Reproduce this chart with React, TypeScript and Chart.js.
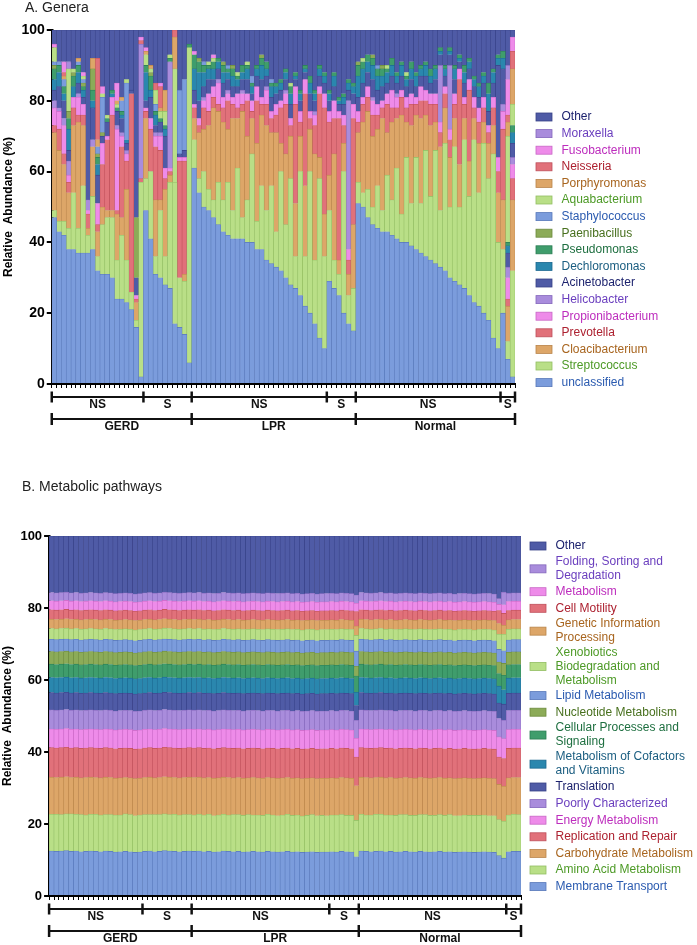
import { useEffect, useRef } from 'react';
import { Chart, registerables } from 'chart.js';

Chart.register(...registerables);
Chart.defaults.font.family = "'Liberation Sans', Arial, Helvetica, sans-serif";
document.body.style.margin = '0';

// sample groups (x axis brackets)
const subgroupNames = ['NS', 'S', 'NS', 'S', 'NS', 'S'];
const subgroupSizes = [19, 10, 28, 6, 30, 3];
const groupNames = ['GERD', 'LPR', 'Normal'];
const groupSizes = [29, 34, 33];

const sampleIds: string[] = [];
subgroupSizes.forEach((n, g) => {
  for (let i = 1; i <= n; i++) sampleIds.push(`${groupNames[Math.floor(g / 2)]} ${subgroupNames[g]}${i}`);
});

// ---- A. Genera (relative abundance, %), stacked bottom -> top ----
const genusNames = [
  'unclassified', 'Streptococcus', 'Cloacibacterium', 'Prevotella', 'Propionibacterium',
  'Helicobacter', 'Acinetobacter', 'Dechloromonas', 'Pseudomonas', 'Paenibacillus',
  'Staphylococcus', 'Aquabacterium', 'Porphyromonas', 'Neisseria', 'Fusobacterium',
  'Moraxella', 'Other',
];

const unclassified = [
  47, 43, 42, 38, 38, 37, 37, 37, 38, 32,
  31, 31, 30, 24, 24, 23, 21, 16, 2,
  49, 41, 31, 30, 28, 27, 17, 16, 14, 6,
  61, 54, 50, 49, 47, 45, 43, 42, 41, 41,
  41, 40, 40, 38, 38, 35, 34, 33, 32, 30,
  28, 27, 25, 22, 20, 17, 13, 10,
  29, 27, 25, 20, 17, 15,
  51, 50, 47, 45, 44, 43, 43, 42, 41, 40,
  40, 39, 38, 37, 36, 35, 34, 33, 32, 30,
  29, 28, 27, 25, 23, 22, 20, 18, 13, 10,
  20, 7, 2,
];
const streptococcus = [
  2, 3, 4, 6, 16, 7, 19, 5, 15, 4,
  14, 16, 17, 11, 18, 12, 5, 2, 55,
  9, 19, 5, 19, 8, 30, 40, 14, 15, 89,
  8, 4, 10, 6, 5, 12, 9, 15, 8, 20,
  6, 12, 25, 8, 18, 14, 22, 10, 28, 15,
  30, 9, 35, 14, 40, 18, 45, 26,
  20, 8, 6, 40, 8, 12,
  6, 4, 8, 5, 12, 6, 16, 10, 20, 8,
  24, 12, 26, 14, 30, 18, 32, 16, 36, 20,
  38, 22, 42, 28, 46, 32, 48, 40, 52, 30,
  18, 5, 30,
];
const cloacibacterium = [
  22, 20, 16, 10, 19, 30, 17, 2, 14, 7,
  5, 2, 2, 13, 5, 20, 0, 5, 0,
  17, 0, 16, 3, 19, 2, 0, 0, 2, 0,
  6, 13, 12, 18, 26, 20, 22, 15, 26, 14,
  30, 18, 10, 22, 20, 24, 15, 28, 8, 20,
  12, 15, 10, 20, 12, 30, 6, 12,
  10, 30, 4, 8, 6, 18,
  14, 20, 22, 20, 16, 26, 12, 22, 14, 28,
  10, 22, 12, 24, 10, 20, 8, 18, 10, 14,
  8, 12, 6, 10, 6, 14, 6, 10, 8, 14,
  14, 10, 20,
];
const prevotella = [
  2, 6, 3, 3, 5, 2, 3, 4, 0, 2,
  12, 20, 27, 1, 20, 8, 56, 1, 1,
  2, 12, 15, 14, 3, 1, 0, 33, 32, 0,
  3, 2, 6, 4, 3, 2, 4, 8, 4, 3,
  2, 10, 2, 12, 3, 6, 4, 5, 10, 14,
  3, 28, 4, 26, 3, 8, 18, 30,
  15, 10, 40, 5, 4, 30,
  3, 5, 4, 6, 4, 3, 8, 4, 3, 5,
  4, 6, 3, 5, 4, 6, 5, 4, 4, 5,
  4, 24, 4, 20, 3, 6, 4, 3, 5, 6,
  20, 2, 6,
];
const propionibacterium = [
  5, 5, 8, 2, 3, 5, 3, 1, 0, 6,
  6, 1, 5, 23, 3, 2, 0, 1, 0,
  1, 3, 3, 4, 3, 1, 0, 1, 1, 0,
  1, 2, 2, 5, 3, 6, 3, 2, 2, 4,
  3, 2, 3, 4, 2, 4, 2, 3, 2, 3,
  2, 5, 3, 4, 2, 3, 2, 4,
  3, 5, 2, 3, 3, 4,
  3, 2, 3, 4, 3, 2, 3, 5, 3, 2,
  3, 3, 2, 4, 3, 3, 3, 3, 2, 3,
  3, 3, 2, 3, 3, 4, 3, 2, 3, 4,
  5, 6, 4,
];
const helicobacter = [
  2, 1, 2, 4, 0, 1, 0, 3, 2, 0,
  0, 0, 0, 1, 1, 1, 0, 0, 38,
  0, 0, 1, 1, 0, 30, 0, 0, 0, 0,
  0, 0, 1, 0, 0, 1, 0, 1, 0, 0,
  1, 0, 0, 0, 0, 1, 0, 0, 0, 1,
  0, 0, 0, 0, 0, 1, 0, 0,
  0, 0, 0, 0, 42, 0,
  0, 0, 0, 1, 0, 0, 0, 0, 1, 0,
  0, 0, 0, 0, 0, 0, 0, 16, 0, 18,
  0, 0, 0, 0, 0, 0, 0, 0, 0, 0,
  2, 3, 2,
];
const acinetobacter = [
  3, 6, 5, 3, 0, 3, 2, 0, 9, 8,
  2, 4, 0, 4, 4, 2, 1, 5, 0,
  2, 6, 2, 3, 9, 0, 0, 1, 2, 0,
  4, 5, 3, 4, 2, 3, 4, 3, 3, 2,
  3, 4, 2, 3, 5, 3, 4, 3, 3, 3,
  4, 2, 3, 2, 5, 3, 3, 3,
  3, 4, 2, 3, 3, 3,
  4, 4, 4, 5, 4, 4, 3, 4, 3, 4,
  3, 4, 3, 3, 4, 3, 4, 3, 3, 3,
  4, 2, 4, 3, 3, 3, 4, 4, 4, 26,
  10, 4, 4,
];
const dechloromonas = [
  3, 4, 2, 6, 3, 3, 2, 0, 2, 3,
  0, 0, 1, 0, 1, 1, 0, 0, 0,
  8, 2, 3, 0, 2, 0, 0, 0, 0, 0,
  6, 8, 4, 3, 3, 2, 3, 2, 3, 2,
  2, 3, 2, 2, 4, 2, 3, 2, 2, 2,
  3, 1, 2, 1, 3, 2, 2, 2,
  2, 3, 1, 2, 2, 2,
  6, 4, 3, 4, 4, 3, 3, 3, 2, 3,
  2, 3, 3, 2, 3, 2, 3, 1, 2, 1,
  3, 1, 3, 2, 2, 3, 2, 5, 3, 2,
  3, 2, 3,
];
const pseudomonas = [
  3, 2, 2, 3, 3, 2, 1, 0, 3, 2,
  0, 1, 1, 1, 1, 0, 0, 0, 0,
  2, 4, 1, 1, 1, 1, 0, 0, 0, 1,
  4, 3, 2, 1, 2, 1, 2, 1, 2, 1,
  2, 1, 1, 1, 2, 2, 1, 1, 1, 1,
  2, 1, 1, 1, 2, 1, 1, 1,
  1, 1, 1, 1, 1, 1,
  3, 2, 2, 2, 2, 2, 1, 2, 1, 1,
  1, 2, 1, 1, 1, 2, 1, 1, 1, 1,
  1, 1, 2, 1, 1, 1, 1, 3, 1, 1,
  2, 1, 2,
];
const paenibacillus = [
  1, 0, 0, 2, 1, 0, 1, 0, 6, 1,
  1, 0, 0, 0, 0, 0, 0, 17, 0,
  0, 1, 0, 0, 0, 0, 0, 0, 0, 0,
  0, 1, 0, 0, 0, 0, 1, 0, 1, 0,
  0, 0, 0, 0, 1, 0, 0, 0, 0, 0,
  0, 0, 0, 0, 0, 0, 0, 0,
  0, 0, 0, 0, 0, 0,
  1, 0, 0, 1, 0, 1, 0, 0, 0, 0,
  0, 0, 0, 0, 0, 0, 0, 0, 0, 0,
  0, 0, 0, 0, 0, 0, 0, 0, 0, 0,
  0, 0, 0,
];
const staphylococcus = [
  1, 1, 2, 0, 0, 1, 1, 0, 0, 2,
  10, 0, 0, 0, 3, 16, 0, 0, 0,
  0, 0, 2, 0, 0, 0, 0, 18, 20, 0,
  0, 0, 1, 0, 0, 0, 0, 1, 0, 0,
  0, 0, 2, 0, 0, 0, 1, 0, 0, 0,
  0, 0, 0, 0, 0, 0, 0, 0,
  0, 0, 0, 0, 0, 0,
  0, 0, 0, 0, 1, 0, 0, 0, 0, 0,
  0, 0, 0, 0, 0, 0, 0, 0, 0, 0,
  0, 0, 0, 0, 0, 0, 0, 0, 0, 0,
  0, 0, 0,
];
const aquabacterium = [
  4, 0, 0, 12, 1, 0, 1, 0, 0, 0,
  1, 1, 0, 1, 0, 1, 0, 0, 0,
  3, 1, 4, 2, 4, 1, 32, 0, 0, 0,
  0, 0, 0, 1, 1, 0, 0, 0, 0, 1,
  0, 1, 0, 0, 0, 0, 0, 0, 0, 0,
  1, 0, 0, 0, 0, 0, 0, 0,
  0, 0, 0, 0, 0, 0,
  0, 1, 0, 0, 0, 0, 1, 0, 0, 0,
  1, 0, 0, 0, 0, 0, 0, 0, 0, 0,
  0, 0, 0, 0, 0, 0, 0, 0, 0, 0,
  0, 30, 6,
];
const porphyromonas = [
  0, 0, 1, 0, 0, 1, 0, 0, 3, 2,
  0, 0, 0, 1, 1, 0, 0, 0, 0,
  1, 1, 0, 1, 6, 0, 9, 0, 0, 0,
  0, 0, 0, 0, 0, 0, 0, 0, 0, 0,
  0, 0, 0, 0, 0, 0, 0, 0, 0, 0,
  0, 0, 0, 0, 0, 0, 0, 0,
  0, 0, 0, 0, 0, 0,
  0, 0, 0, 0, 0, 0, 0, 0, 0, 0,
  0, 0, 0, 0, 0, 0, 0, 0, 0, 0,
  0, 0, 0, 0, 0, 0, 0, 0, 0, 0,
  0, 4, 10,
];
const neisseria = [
  0, 0, 1, 0, 0, 0, 0, 0, 0, 23,
  0, 0, 0, 0, 0, 0, 0, 0, 1,
  0, 0, 2, 6, 0, 0, 2, 0, 0, 0,
  0, 0, 0, 0, 0, 0, 0, 0, 0, 0,
  0, 0, 0, 0, 0, 0, 0, 0, 0, 0,
  0, 0, 0, 0, 0, 0, 0, 0,
  0, 0, 0, 0, 0, 0,
  0, 0, 0, 0, 0, 0, 0, 0, 0, 0,
  0, 0, 0, 0, 0, 0, 0, 0, 0, 0,
  0, 0, 0, 0, 0, 0, 0, 0, 0, 0,
  0, 2, 5,
];
const fusobacterium = [
  1, 0, 3, 0, 0, 0, 1, 0, 0, 0,
  2, 0, 0, 5, 0, 0, 0, 0, 1,
  1, 0, 0, 1, 0, 0, 0, 0, 0, 0,
  1, 0, 0, 0, 1, 0, 0, 0, 0, 0,
  0, 0, 0, 0, 0, 0, 0, 0, 0, 0,
  0, 0, 0, 0, 0, 0, 0, 0,
  0, 0, 0, 0, 0, 0,
  0, 0, 0, 0, 0, 0, 0, 0, 0, 0,
  0, 0, 0, 0, 0, 0, 0, 0, 0, 0,
  0, 0, 0, 0, 0, 0, 0, 0, 0, 0,
  0, 10, 4,
];
const moraxella = [
  0, 0, 0, 2, 0, 0, 0, 0, 0, 0,
  0, 0, 0, 0, 0, 0, 0, 0, 0,
  0, 0, 0, 0, 0, 0, 0, 0, 0, 0,
  0, 0, 0, 0, 0, 0, 0, 0, 0, 0,
  0, 0, 0, 0, 0, 0, 0, 0, 0, 0,
  0, 0, 0, 0, 0, 0, 0, 0,
  0, 0, 0, 0, 0, 0,
  0, 0, 0, 0, 0, 0, 0, 0, 0, 0,
  0, 0, 0, 0, 0, 0, 0, 0, 0, 0,
  0, 0, 0, 0, 0, 0, 0, 0, 0, 0,
  0, 4, 0,
];
const otherGenera = [
  4, 9, 9, 9, 11, 8, 12, 48, 8, 8,
  16, 24, 17, 15, 19, 14, 17, 53, 2,
  5, 10, 15, 15, 17, 7, 0, 17, 14, 4,
  6, 8, 9, 9, 7, 8, 9, 10, 10, 12,
  10, 9, 13, 10, 7, 9, 14, 15, 14, 11,
  15, 12, 17, 10, 13, 17, 10, 12,
  17, 12, 19, 18, 14, 15,
  9, 8, 7, 7, 10, 10, 10, 8, 12, 9,
  12, 9, 12, 10, 9, 11, 10, 5, 10, 5,
  10, 7, 10, 8, 13, 15, 12, 15, 11, 7,
  6, 10, 2,
];

// ---- B. Metabolic pathways (relative abundance, %), stacked bottom -> top ----
const pathwayNames = [
  'Membrane Transport', 'Amino Acid Metabolism', 'Carbohydrate Metabolism', 'Replication and Repair',
  'Energy Metabolism', 'Poorly Characterized', 'Translation', 'Metabolism of Cofactors and Vitamins',
  'Cellular Processes and Signaling', 'Nucleotide Metabolism', 'Lipid Metabolism',
  'Xenobiotics Biodegradation and Metabolism', 'Genetic Information Processing', 'Cell Motility',
  'Metabolism', 'Folding, Sorting and Degradation', 'Other',
];
const pathwayLegendLines = [
  ['Membrane Transport'], ['Amino Acid Metabolism'], ['Carbohydrate Metabolism'], ['Replication and Repair'],
  ['Energy Metabolism'], ['Poorly Characterized'], ['Translation'], ['Metabolism of Cofactors', 'and Vitamins'],
  ['Cellular Processes and', 'Signaling'], ['Nucleotide Metabolism'], ['Lipid Metabolism'],
  ['Xenobiotics', 'Biodegradation and', 'Metabolism'], ['Genetic Information', 'Processing'], ['Cell Motility'],
  ['Metabolism'], ['Folding, Sorting and', 'Degradation'], ['Other'],
];

const membraneTransport = [
  12.5, 12.4, 12.5, 12.6, 12.4, 12.5, 12.3, 12.4, 12.5, 12.4,
  12.3, 12.5, 12.4, 12.2, 12.3, 12.4, 12.3, 12.1, 12.2,
  12.4, 12.5, 12.3, 12.4, 12.6, 12.5, 12.4, 12.3, 12.4, 12.5,
  12.4, 12.5, 12.3, 12.4, 12.2, 12.3, 12.5, 12.4, 12.3, 12.4,
  12.2, 12.3, 12.4, 12.3, 12.2, 12.4, 12.3, 12.2, 12.3, 12.4,
  12.2, 12.3, 12.1, 12.2, 12.3, 12.1, 12.2, 12.2,
  12.3, 12.2, 12.4, 12.3, 12.2, 10.9,
  12.5, 12.4, 12.3, 12.4, 12.5, 12.3, 12.4, 12.2, 12.3, 12.4,
  12.3, 12.2, 12.4, 12.3, 12.2, 12.3, 12.4, 12.2, 12.3, 12.1,
  12.2, 12.3, 12.2, 12.1, 12.2, 12.3, 12.2, 12.1, 11.2, 10.5,
  12.3, 12.4, 12.4,
];
const aminoAcid = [
  10.2, 10.3, 10.1, 10.2, 10.4, 10.2, 10.3, 10.1, 10.2, 10.3,
  10.2, 10.1, 10.2, 10.3, 10.2, 10.4, 10.3, 10.2, 10.3,
  10.2, 10.1, 10.3, 10.2, 10.2, 10.1, 10.3, 10.2, 10.2, 10.1,
  10.1, 10.2, 10.2, 10.3, 10.1, 10.2, 10.2, 10.1, 10.3, 10.2,
  10.2, 10.3, 10.1, 10.2, 10.2, 10.3, 10.2, 10.1, 10.2, 10.3,
  10.2, 10.2, 10.1, 10.2, 10.3, 10.2, 10.2, 10.1,
  10.2, 10.3, 10.2, 10.1, 10.2, 10.1,
  10.2, 10.1, 10.2, 10.3, 10.2, 10.2, 10.1, 10.2, 10.3, 10.2,
  10.1, 10.2, 10.2, 10.3, 10.2, 10.1, 10.2, 10.2, 10.3, 10.2,
  10.1, 10.2, 10.2, 10.3, 10.2, 10.2, 10.1, 10.2, 10.0, 10.3,
  10.2, 10.3, 10.2,
];
const carbohydrate = [
  10.3, 10.2, 10.4, 10.3, 10.1, 10.3, 10.2, 10.4, 10.3, 10.2,
  10.3, 10.4, 10.3, 10.2, 10.3, 10.1, 10.2, 10.3, 10.2,
  10.3, 10.4, 10.2, 10.3, 10.3, 10.4, 10.2, 10.3, 10.3, 10.4,
  10.4, 10.3, 10.3, 10.2, 10.4, 10.3, 10.3, 10.4, 10.2, 10.3,
  10.3, 10.2, 10.4, 10.3, 10.3, 10.2, 10.3, 10.4, 10.3, 10.2,
  10.3, 10.3, 10.4, 10.3, 10.2, 10.3, 10.3, 10.4,
  10.3, 10.2, 10.3, 10.4, 10.3, 9.6,
  10.3, 10.4, 10.3, 10.2, 10.3, 10.3, 10.4, 10.3, 10.2, 10.3,
  10.4, 10.3, 10.3, 10.2, 10.3, 10.4, 10.3, 10.3, 10.2, 10.3,
  10.4, 10.3, 10.3, 10.2, 10.3, 10.3, 10.4, 10.3, 9.8, 9.7,
  10.3, 10.2, 10.3,
];
const replication = [
  8.2, 8.2, 8.2, 8.2, 8.2, 8.2, 8.2, 8.2, 8.2, 8.2,
  8.2, 8.2, 8.2, 8.2, 8.2, 8.2, 8.2, 8.2, 8.2,
  8.2, 8.2, 8.2, 8.2, 8.2, 8.2, 8.2, 8.2, 8.2, 8.2,
  8.2, 8.2, 8.2, 8.2, 8.2, 8.2, 8.2, 8.2, 8.2, 8.2,
  8.2, 8.2, 8.2, 8.2, 8.2, 8.2, 8.2, 8.2, 8.2, 8.2,
  8.2, 8.2, 8.2, 8.2, 8.2, 8.2, 8.2, 8.2,
  8.2, 8.2, 8.2, 8.2, 8.2, 8.0,
  8.2, 8.2, 8.2, 8.2, 8.2, 8.2, 8.2, 8.2, 8.2, 8.2,
  8.2, 8.2, 8.2, 8.2, 8.2, 8.2, 8.2, 8.2, 8.2, 8.2,
  8.2, 8.2, 8.2, 8.2, 8.2, 8.2, 8.2, 8.2, 7.6, 7.7,
  8.2, 8.2, 8.2,
];
const energy = [
  5.2, 5.2, 5.2, 5.2, 5.2, 5.2, 5.2, 5.2, 5.2, 5.2,
  5.2, 5.2, 5.2, 5.2, 5.2, 5.2, 5.2, 5.2, 5.2,
  5.2, 5.2, 5.2, 5.2, 5.2, 5.2, 5.2, 5.2, 5.2, 5.2,
  5.2, 5.2, 5.2, 5.2, 5.2, 5.2, 5.2, 5.2, 5.2, 5.2,
  5.2, 5.2, 5.2, 5.2, 5.2, 5.2, 5.2, 5.2, 5.2, 5.2,
  5.2, 5.2, 5.2, 5.2, 5.2, 5.2, 5.2, 5.2,
  5.2, 5.2, 5.2, 5.2, 5.2, 5.2,
  5.2, 5.2, 5.2, 5.2, 5.2, 5.2, 5.2, 5.2, 5.2, 5.2,
  5.2, 5.2, 5.2, 5.2, 5.2, 5.2, 5.2, 5.2, 5.2, 5.2,
  5.2, 5.2, 5.2, 5.2, 5.2, 5.2, 5.2, 5.2, 5.6, 5.5,
  5.2, 5.2, 5.2,
];
const poorlyCharacterized = [
  5.3, 5.3, 5.3, 5.3, 5.3, 5.3, 5.3, 5.3, 5.3, 5.3,
  5.3, 5.3, 5.3, 5.3, 5.3, 5.3, 5.3, 5.3, 5.3,
  5.3, 5.3, 5.3, 5.3, 5.3, 5.3, 5.3, 5.3, 5.3, 5.3,
  5.3, 5.3, 5.3, 5.3, 5.3, 5.3, 5.3, 5.3, 5.3, 5.3,
  5.3, 5.3, 5.3, 5.3, 5.3, 5.3, 5.3, 5.3, 5.3, 5.3,
  5.3, 5.3, 5.3, 5.3, 5.3, 5.3, 5.3, 5.3,
  5.3, 5.3, 5.3, 5.3, 5.3, 5.0,
  5.3, 5.3, 5.3, 5.3, 5.3, 5.3, 5.3, 5.3, 5.3, 5.3,
  5.3, 5.3, 5.3, 5.3, 5.3, 5.3, 5.3, 5.3, 5.3, 5.3,
  5.3, 5.3, 5.3, 5.3, 5.3, 5.3, 5.3, 5.3, 5.1, 5.1,
  5.3, 5.3, 5.3,
];
const translation = [
  4.8, 4.8, 4.8, 4.8, 4.8, 4.8, 4.8, 4.8, 4.8, 4.8,
  4.8, 4.8, 4.8, 4.8, 4.8, 4.8, 4.8, 4.8, 4.8,
  4.8, 4.8, 4.8, 4.8, 4.8, 4.8, 4.8, 4.8, 4.8, 4.8,
  4.8, 4.8, 4.8, 4.8, 4.8, 4.8, 4.8, 4.8, 4.8, 4.8,
  4.8, 4.8, 4.8, 4.8, 4.8, 4.8, 4.8, 4.8, 4.8, 4.8,
  4.8, 4.8, 4.8, 4.8, 4.8, 4.8, 4.8, 4.8,
  4.8, 4.8, 4.8, 4.8, 4.8, 4.1,
  4.8, 4.8, 4.8, 4.8, 4.8, 4.8, 4.8, 4.8, 4.8, 4.8,
  4.8, 4.8, 4.8, 4.8, 4.8, 4.8, 4.8, 4.8, 4.8, 4.8,
  4.8, 4.8, 4.8, 4.8, 4.8, 4.8, 4.8, 4.8, 4.3, 4.5,
  4.8, 4.8, 4.8,
];
const cofactorsVitamins = [
  4.2, 4.2, 4.2, 4.2, 4.2, 4.2, 4.2, 4.2, 4.2, 4.2,
  4.2, 4.2, 4.2, 4.2, 4.2, 4.2, 4.2, 4.2, 4.2,
  4.2, 4.2, 4.2, 4.2, 4.2, 4.2, 4.2, 4.2, 4.2, 4.2,
  4.2, 4.2, 4.2, 4.2, 4.2, 4.2, 4.2, 4.2, 4.2, 4.2,
  4.2, 4.2, 4.2, 4.2, 4.2, 4.2, 4.2, 4.2, 4.2, 4.2,
  4.2, 4.2, 4.2, 4.2, 4.2, 4.2, 4.2, 4.2,
  4.2, 4.2, 4.2, 4.2, 4.2, 3.7,
  4.2, 4.2, 4.2, 4.2, 4.2, 4.2, 4.2, 4.2, 4.2, 4.2,
  4.2, 4.2, 4.2, 4.2, 4.2, 4.2, 4.2, 4.2, 4.2, 4.2,
  4.2, 4.2, 4.2, 4.2, 4.2, 4.2, 4.2, 4.2, 4.7, 4.0,
  4.2, 4.2, 4.2,
];
const cellularProcesses = [
  3.7, 3.7, 3.7, 3.7, 3.7, 3.7, 3.7, 3.7, 3.7, 3.7,
  3.7, 3.7, 3.7, 3.7, 3.7, 3.7, 3.7, 3.7, 3.7,
  3.7, 3.7, 3.7, 3.7, 3.7, 3.7, 3.7, 3.7, 3.7, 3.7,
  3.7, 3.7, 3.7, 3.7, 3.7, 3.7, 3.7, 3.7, 3.7, 3.7,
  3.7, 3.7, 3.7, 3.7, 3.7, 3.7, 3.7, 3.7, 3.7, 3.7,
  3.7, 3.7, 3.7, 3.7, 3.7, 3.7, 3.7, 3.7,
  3.7, 3.7, 3.7, 3.7, 3.7, 4.5,
  3.7, 3.7, 3.7, 3.7, 3.7, 3.7, 3.7, 3.7, 3.7, 3.7,
  3.7, 3.7, 3.7, 3.7, 3.7, 3.7, 3.7, 3.7, 3.7, 3.7,
  3.7, 3.7, 3.7, 3.7, 3.7, 3.7, 3.7, 3.7, 3.5, 4.0,
  3.7, 3.7, 3.7,
];
const nucleotide = [
  3.5, 3.5, 3.5, 3.5, 3.5, 3.5, 3.5, 3.5, 3.5, 3.5,
  3.5, 3.5, 3.5, 3.5, 3.5, 3.5, 3.5, 3.5, 3.5,
  3.5, 3.5, 3.5, 3.5, 3.5, 3.5, 3.5, 3.5, 3.5, 3.5,
  3.5, 3.5, 3.5, 3.5, 3.5, 3.5, 3.5, 3.5, 3.5, 3.5,
  3.5, 3.5, 3.5, 3.5, 3.5, 3.5, 3.5, 3.5, 3.5, 3.5,
  3.5, 3.5, 3.5, 3.5, 3.5, 3.5, 3.5, 3.5,
  3.5, 3.5, 3.5, 3.5, 3.5, 2.7,
  3.5, 3.5, 3.5, 3.5, 3.5, 3.5, 3.5, 3.5, 3.5, 3.5,
  3.5, 3.5, 3.5, 3.5, 3.5, 3.5, 3.5, 3.5, 3.5, 3.5,
  3.5, 3.5, 3.5, 3.5, 3.5, 3.5, 3.5, 3.5, 3.2, 3.3,
  3.5, 3.5, 3.5,
];
const lipid = [
  3.4, 3.4, 3.4, 3.4, 3.4, 3.4, 3.4, 3.4, 3.4, 3.4,
  3.4, 3.4, 3.4, 3.4, 3.4, 3.4, 3.4, 3.4, 3.4,
  3.4, 3.4, 3.4, 3.4, 3.4, 3.4, 3.4, 3.4, 3.4, 3.4,
  3.4, 3.4, 3.4, 3.4, 3.4, 3.4, 3.4, 3.4, 3.4, 3.4,
  3.4, 3.4, 3.4, 3.4, 3.4, 3.4, 3.4, 3.4, 3.4, 3.4,
  3.4, 3.4, 3.4, 3.4, 3.4, 3.4, 3.4, 3.4,
  3.4, 3.4, 3.4, 3.4, 3.4, 4.2,
  3.4, 3.4, 3.4, 3.4, 3.4, 3.4, 3.4, 3.4, 3.4, 3.4,
  3.4, 3.4, 3.4, 3.4, 3.4, 3.4, 3.4, 3.4, 3.4, 3.4,
  3.4, 3.4, 3.4, 3.4, 3.4, 3.4, 3.4, 3.4, 3.5, 3.5,
  3.4, 3.4, 3.4,
];
const xenobiotics = [
  3.0, 3.0, 3.0, 3.0, 3.0, 3.0, 3.0, 3.0, 3.0, 3.0,
  3.0, 3.0, 3.0, 3.0, 3.0, 3.0, 3.0, 3.0, 3.0,
  3.0, 3.0, 3.0, 3.0, 3.0, 3.0, 3.0, 3.0, 3.0, 3.0,
  3.0, 3.0, 3.0, 3.0, 3.0, 3.0, 3.0, 3.0, 3.0, 3.0,
  3.0, 3.0, 3.0, 3.0, 3.0, 3.0, 3.0, 3.0, 3.0, 3.0,
  3.0, 3.0, 3.0, 3.0, 3.0, 3.0, 3.0, 3.0,
  3.0, 3.0, 3.0, 3.0, 3.0, 4.4,
  3.0, 3.0, 3.0, 3.0, 3.0, 3.0, 3.0, 3.0, 3.0, 3.0,
  3.0, 3.0, 3.0, 3.0, 3.0, 3.0, 3.0, 3.0, 3.0, 3.0,
  3.0, 3.0, 3.0, 3.0, 3.0, 3.0, 3.0, 3.0, 4.2, 4.6,
  3.0, 3.0, 3.0,
];
const geneticInfo = [
  2.6, 2.6, 2.6, 2.6, 2.6, 2.6, 2.6, 2.6, 2.6, 2.6,
  2.6, 2.6, 2.6, 2.6, 2.6, 2.6, 2.6, 2.6, 2.6,
  2.6, 2.6, 2.6, 2.6, 2.6, 2.6, 2.6, 2.6, 2.6, 2.6,
  2.6, 2.6, 2.6, 2.6, 2.6, 2.6, 2.6, 2.6, 2.6, 2.6,
  2.6, 2.6, 2.6, 2.6, 2.6, 2.6, 2.6, 2.6, 2.6, 2.6,
  2.6, 2.6, 2.6, 2.6, 2.6, 2.6, 2.6, 2.6,
  2.6, 2.6, 2.6, 2.6, 2.6, 2.6,
  2.6, 2.6, 2.6, 2.6, 2.6, 2.6, 2.6, 2.6, 2.6, 2.6,
  2.6, 2.6, 2.6, 2.6, 2.6, 2.6, 2.6, 2.6, 2.6, 2.6,
  2.6, 2.6, 2.6, 2.6, 2.6, 2.6, 2.6, 2.6, 3.0, 2.5,
  2.6, 2.6, 2.6,
];
const cellMotility = [
  2.6, 2.6, 2.6, 2.6, 2.6, 2.6, 2.6, 2.6, 2.6, 2.6,
  2.6, 2.6, 2.6, 2.6, 2.6, 2.6, 2.6, 2.6, 2.6,
  2.6, 2.6, 2.6, 2.6, 2.6, 2.6, 2.6, 2.6, 2.6, 2.6,
  2.6, 2.6, 2.6, 2.6, 2.6, 2.6, 2.6, 2.6, 2.6, 2.6,
  2.6, 2.6, 2.6, 2.6, 2.6, 2.6, 2.6, 2.6, 2.6, 2.6,
  2.6, 2.6, 2.6, 2.6, 2.6, 2.6, 2.6, 2.6,
  2.6, 2.6, 2.6, 2.6, 2.6, 4.0,
  2.6, 2.6, 2.6, 2.6, 2.6, 2.6, 2.6, 2.6, 2.6, 2.6,
  2.6, 2.6, 2.6, 2.6, 2.6, 2.6, 2.6, 2.6, 2.6, 2.6,
  2.6, 2.6, 2.6, 2.6, 2.6, 2.6, 2.6, 2.6, 3.6, 3.3,
  2.6, 2.6, 2.6,
];
const metabolism = [
  2.5, 2.5, 2.5, 2.5, 2.5, 2.5, 2.5, 2.5, 2.5, 2.5,
  2.5, 2.5, 2.5, 2.5, 2.5, 2.5, 2.5, 2.5, 2.5,
  2.5, 2.5, 2.5, 2.5, 2.5, 2.5, 2.5, 2.5, 2.5, 2.5,
  2.5, 2.5, 2.5, 2.5, 2.5, 2.5, 2.5, 2.5, 2.5, 2.5,
  2.5, 2.5, 2.5, 2.5, 2.5, 2.5, 2.5, 2.5, 2.5, 2.5,
  2.5, 2.5, 2.5, 2.5, 2.5, 2.5, 2.5, 2.5,
  2.5, 2.5, 2.5, 2.5, 2.5, 2.3,
  2.5, 2.5, 2.5, 2.5, 2.5, 2.5, 2.5, 2.5, 2.5, 2.5,
  2.5, 2.5, 2.5, 2.5, 2.5, 2.5, 2.5, 2.5, 2.5, 2.5,
  2.5, 2.5, 2.5, 2.5, 2.5, 2.5, 2.5, 2.5, 1.7, 2.4,
  2.5, 2.5, 2.5,
];
const folding = [
  2.3, 2.3, 2.3, 2.3, 2.3, 2.3, 2.3, 2.3, 2.3, 2.3,
  2.3, 2.3, 2.3, 2.3, 2.3, 2.3, 2.3, 2.3, 2.3,
  2.3, 2.3, 2.3, 2.3, 2.3, 2.3, 2.3, 2.3, 2.3, 2.3,
  2.3, 2.3, 2.3, 2.3, 2.3, 2.3, 2.3, 2.3, 2.3, 2.3,
  2.3, 2.3, 2.3, 2.3, 2.3, 2.3, 2.3, 2.3, 2.3, 2.3,
  2.3, 2.3, 2.3, 2.3, 2.3, 2.3, 2.3, 2.3,
  2.3, 2.3, 2.3, 2.3, 2.3, 2.3,
  2.3, 2.3, 2.3, 2.3, 2.3, 2.3, 2.3, 2.3, 2.3, 2.3,
  2.3, 2.3, 2.3, 2.3, 2.3, 2.3, 2.3, 2.3, 2.3, 2.3,
  2.3, 2.3, 2.3, 2.3, 2.3, 2.3, 2.3, 2.3, 1.6, 3.5,
  2.3, 2.3, 2.3,
];
const otherPathways = [
  15.7, 15.8, 15.7, 15.6, 15.8, 15.7, 15.9, 15.8, 15.7, 15.8,
  15.9, 15.7, 15.8, 16.0, 15.9, 15.8, 15.9, 16.1, 16.0,
  15.8, 15.7, 15.9, 15.8, 15.6, 15.7, 15.8, 15.9, 15.8, 15.7,
  15.8, 15.7, 15.9, 15.8, 16.0, 15.9, 15.7, 15.8, 15.9, 15.8,
  16.0, 15.9, 15.8, 15.9, 16.0, 15.8, 15.9, 16.0, 15.9, 15.8,
  16.0, 15.9, 16.1, 16.0, 15.9, 16.1, 16.0, 16.0,
  15.9, 16.0, 15.8, 15.9, 16.0, 16.4,
  15.7, 15.8, 15.9, 15.8, 15.7, 15.9, 15.8, 16.0, 15.9, 15.8,
  15.9, 16.0, 15.8, 15.9, 16.0, 15.9, 15.8, 16.0, 15.9, 16.1,
  16.0, 15.9, 16.0, 16.1, 16.0, 15.9, 16.0, 16.1, 17.4, 15.6,
  15.9, 15.8, 15.8,
];

// colour cycle used by both panels (bottom -> top)
const tones: Record<string, { fill: string; edge: string; text: string }> = {
  blue: { fill: '#7b9cdc', edge: '#5878ba', text: '#2b5bb0' },
  lime: { fill: '#b9df87', edge: '#92bd62', text: '#4d9a26' },
  orange: { fill: '#dda668', edge: '#b9844a', text: '#a8651f' },
  red: { fill: '#e1717a', edge: '#bf4f5a', text: '#ad2130' },
  pink: { fill: '#ee8be9', edge: '#c866c5', text: '#bd2dbd' },
  purple: { fill: '#a98cdc', edge: '#8467bc', text: '#6a3ebe' },
  navy: { fill: '#4f5ba6', edge: '#374187', text: '#1d236e' },
  teal: { fill: '#2a87ae', edge: '#1b6890', text: '#1a5d80' },
  green: { fill: '#3f9d6c', edge: '#2a7d53', text: '#1e6f40' },
  olive: { fill: '#8cab58', edge: '#6c8b3c', text: '#48701e' },
};
const toneCycle = [
  'blue', 'lime', 'orange', 'red', 'pink', 'purple', 'navy', 'teal', 'green', 'olive',
  'blue', 'lime', 'orange', 'red', 'pink', 'purple', 'navy',
];

const FONT = "'Liberation Sans', Arial, Helvetica, sans-serif";

// draws panel title, NS/S + group brackets under the x axis and the legend
const panelDecor = {
  id: 'panelDecor',
  afterDraw(chart: any, _args: any, o: any) {
    const { ctx, chartArea } = chart;
    const x = chart.scales.x;
    const step = x.getPixelForValue(1) - x.getPixelForValue(0);
    const edge = (i: number) => x.getPixelForValue(i) - step / 2;
    ctx.save();

    ctx.fillStyle = '#222';
    ctx.font = `14px ${FONT}`;
    ctx.textAlign = 'left';
    ctx.textBaseline = 'alphabetic';
    ctx.fillText(o.title, o.titleX, o.titleY);

    const rows = [
      { names: subgroupNames, sizes: subgroupSizes, line: 13, text: 20.5, cap: 5.5 },
      { names: groupNames, sizes: groupSizes, line: 35, text: 43, cap: 6 },
    ];
    ctx.strokeStyle = '#111';
    ctx.fillStyle = '#111';
    ctx.font = `bold 12px ${FONT}`;
    ctx.textAlign = 'center';
    ctx.textBaseline = 'middle';
    rows.forEach((row) => {
      const y = chartArea.bottom + row.line;
      const total = row.sizes.reduce((a, b) => a + b, 0);
      ctx.lineWidth = 2;
      ctx.beginPath();
      ctx.moveTo(edge(0), y);
      ctx.lineTo(edge(total), y);
      ctx.stroke();
      const cap = (px: number) => {
        ctx.lineWidth = 2.5;
        ctx.beginPath();
        ctx.moveTo(px, y - row.cap);
        ctx.lineTo(px, y + row.cap);
        ctx.stroke();
      };
      cap(edge(0));
      let start = 0;
      row.sizes.forEach((n, k) => {
        const end = start + n;
        cap(edge(end));
        ctx.fillText(row.names[k], (edge(start) + edge(end)) / 2, chartArea.bottom + row.text);
        start = end;
      });
    });

    // legend, top item = last dataset
    const items = chart.data.datasets
      .map((d: any, i: number) => ({ d, lines: o.lines[i], color: o.textColors[i] }))
      .reverse();
    const sx = chartArea.right + o.legendDx;
    let cy = chartArea.top + o.legendTop;
    ctx.font = `12px ${FONT}`;
    ctx.textAlign = 'left';
    ctx.textBaseline = 'middle';
    items.forEach((it: any, i: number) => {
      if (i > 0) cy += 16.6 + 12.5 * (items[i - 1].lines.length - 1 + it.lines.length - 1) / 2;
      ctx.fillStyle = it.d.backgroundColor;
      ctx.fillRect(sx, cy - 4, 16, 8);
      ctx.strokeStyle = it.d.borderColor;
      ctx.lineWidth = 0.8;
      ctx.strokeRect(sx, cy - 4, 16, 8);
      ctx.fillStyle = it.color;
      const n = it.lines.length;
      it.lines.forEach((line: string, j: number) => {
        ctx.fillText(line, sx + 25.5, cy + (j - (n - 1) / 2) * 14);
      });
    });
    ctx.restore();
  },
};

type PanelProps = {
  height: number;
  title: string;
  titleX: number;
  titleY: number;
  names: string[];
  lines: string[][];
  series: number[][];
  padding: { top: number; right: number; bottom: number; left: number };
  tickSize: number;
  legendDx: number;
  legendTop: number;
};

function StackedPanel(p: PanelProps) {
  const canvasRef = useRef<HTMLCanvasElement>(null);
  const chartRef = useRef<Chart | null>(null);

  useEffect(() => {
    if (!canvasRef.current) return;
    if (chartRef.current) chartRef.current.destroy();

    chartRef.current = new Chart(canvasRef.current, {
      type: 'bar',
      data: {
        labels: sampleIds,
        datasets: p.series.map((values, i) => ({
          label: p.names[i],
          data: values,
          backgroundColor: tones[toneCycle[i]].fill,
          borderColor: tones[toneCycle[i]].edge,
          borderWidth: 0.6,
          barPercentage: 1,
          categoryPercentage: 1,
        })),
      },
      options: {
        responsive: true,
        maintainAspectRatio: false,
        animation: false,
        events: [],
        layout: { padding: p.padding },
        plugins: {
          legend: { display: false },
          tooltip: { enabled: false },
          // @ts-ignore custom plugin options
          panelDecor: {
            title: p.title,
            titleX: p.titleX,
            titleY: p.titleY,
            lines: p.lines,
            textColors: p.series.map((_, i) => tones[toneCycle[i]].text),
            legendDx: p.legendDx,
            legendTop: p.legendTop,
          },
        },
        scales: {
          x: {
            stacked: true,
            border: { display: true, color: '#000', width: 2 },
            grid: { drawOnChartArea: false, drawTicks: true, tickLength: 4, color: '#000', lineWidth: 1 },
            ticks: { display: false },
          },
          y: {
            stacked: true,
            min: 0,
            max: 100,
            border: { display: true, color: '#000', width: 2.5 },
            grid: { drawOnChartArea: false, drawTicks: true, tickLength: 5, color: '#000', lineWidth: 2 },
            ticks: { stepSize: 20, color: '#000', padding: 2, font: { size: p.tickSize, weight: 'bold' } },
            title: {
              display: true,
              text: 'Relative  Abundance (%)',
              color: '#000',
              font: { size: 12, weight: 'bold' },
              padding: { top: 0, bottom: 4 },
            },
          },
        },
      },
      plugins: [panelDecor],
    });

    return () => {
      if (chartRef.current) {
        chartRef.current.destroy();
        chartRef.current = null;
      }
    };
  }, []);

  return (
    <div style={{ position: 'relative', width: 697, height: p.height }}>
      <canvas ref={canvasRef} />
    </div>
  );
}

export default function App() {
  return (
    <div style={{ width: 697, height: 945, background: '#fff', overflow: 'hidden' }}>
      <StackedPanel
        height={470}
        title="A. Genera"
        titleX={25}
        titleY={12}
        names={genusNames}
        lines={genusNames.map((n) => [n])}
        series={[
          unclassified, streptococcus, cloacibacterium, prevotella, propionibacterium,
          helicobacter, acinetobacter, dechloromonas, pseudomonas, paenibacillus,
          staphylococcus, aquabacterium, porphyromonas, neisseria, fusobacterium,
          moraxella, otherGenera,
        ]}
        padding={{ top: 30, right: 182, bottom: 82, left: 1 }}
        tickSize={14}
        legendDx={21}
        legendTop={87}
      />
      <StackedPanel
        height={475}
        title="B. Metabolic pathways"
        titleX={22}
        titleY={21}
        names={pathwayNames}
        lines={pathwayLegendLines}
        series={[
          membraneTransport, aminoAcid, carbohydrate, replication, energy,
          poorlyCharacterized, translation, cofactorsVitamins, cellularProcesses, nucleotide,
          lipid, xenobiotics, geneticInfo, cellMotility, metabolism, folding, otherPathways,
        ]}
        padding={{ top: 66, right: 176, bottom: 45, left: 0 }}
        tickSize={13}
        legendDx={9}
        legendTop={10}
      />
    </div>
  );
}
